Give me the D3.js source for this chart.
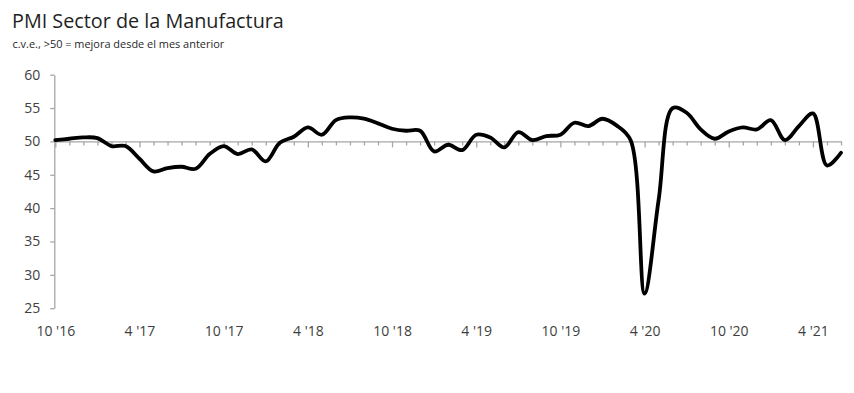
<!DOCTYPE html>
<html><head><meta charset="utf-8">
<script src="https://cdn.jsdelivr.net/npm/d3@7/dist/d3.min.js"></script>
<style>
html,body{margin:0;padding:0;background:#fff;}
svg{display:block;}
</style></head>
<body>
<svg id="chart" width="854" height="393"></svg>
<script>
const title = "PMI Sector de la Manufactura";
const subtitle = "c.v.e., >50 = mejora desde el mes anterior";
// Monthly, Oct 2016 .. Jun 2021
const months = ["10/16","11/16","12/16","1/17","2/17","3/17","4/17","5/17","6/17","7/17","8/17","9/17",
  "10/17","11/17","12/17","1/18","2/18","3/18","4/18","5/18","6/18","7/18","8/18","9/18",
  "10/18","11/18","12/18","1/19","2/19","3/19","4/19","5/19","6/19","7/19","8/19","9/19",
  "10/19","11/19","12/19","1/20","2/20","3/20","4/20","5/20","6/20","7/20","8/20","9/20",
  "10/20","11/20","12/20","1/21","2/21","3/21","4/21","5/21","6/21"];
const pmi = [50.2,50.4,50.6,50.5,49.3,49.3,47.4,45.5,46.0,46.2,45.9,48.1,
  49.3,48.1,48.8,47.0,49.8,50.7,52.1,51.0,53.2,53.6,53.4,52.7,
  51.9,51.6,51.6,48.5,49.5,48.7,51.0,50.6,49.1,51.4,50.2,50.8,
  51.0,52.8,52.3,53.4,52.4,50.2,27.2,41.2,55.0,54.3,51.8,50.4,
  51.5,52.1,51.8,53.2,50.2,52.3,54.2,46.4,48.3];
const xTickLabels = ["10 '16","4 '17","10 '17","4 '18","10 '18","4 '19","10 '19","4 '20","10 '20","4 '21"];
const xTickIndex = [0,6,12,18,24,30,36,42,48,54];
const yTicks = [25,30,35,40,45,50,55,60];

const svg = d3.select("#chart");
const axisColor = "#a6a6a6";
const textColor = "#404040";
const font = "'Open Sans', sans-serif";

const x = d3.scaleLinear().domain([0, months.length - 1]).range([55.3, 841]);
const y = d3.scaleLinear().domain([25, 60]).range([308.2, 74.7]);

// Title
const t1 = svg.append("text").attr("x", 12).attr("y", 28)
  .attr("font-family", font).attr("font-size", 20).attr("fill", "#1f1f1f").text(title);
const w1 = t1.node().getComputedTextLength();
t1.attr("font-size", 20 * 272 / w1);
const t2 = svg.append("text").attr("x", 12.5).attr("y", 48)
  .attr("font-family", font).attr("font-size", 11).attr("fill", "#1f1f1f").text(subtitle);
const w2 = t2.node().getComputedTextLength();
t2.attr("font-size", 11 * 212 / w2);

// Y axis
const yAxis = svg.append("g").attr("transform", "translate(54.3,0)")
  .call(d3.axisLeft(y).tickValues(yTicks).tickSize(4).tickSizeOuter(0).tickPadding(10));
yAxis.select(".domain").attr("stroke", axisColor).attr("stroke-width", 1.3);
yAxis.selectAll(".tick line").attr("stroke", axisColor).attr("stroke-width", 1.3);
yAxis.selectAll(".tick text").attr("font-family", font).attr("font-size", 14).attr("fill", textColor);

// Horizontal axis at 50 with monthly ticks
const hAxis = svg.append("g").attr("transform", `translate(0,${y(50)})`)
  .call(d3.axisBottom(x).tickValues(d3.range(months.length)).tickSize(4).tickSizeOuter(0).tickFormat(""));
hAxis.select(".domain").attr("stroke", axisColor).attr("stroke-width", 1.3);
hAxis.selectAll(".tick line").attr("stroke", axisColor).attr("stroke-width", 1.3)
  .attr("y2", d => xTickIndex.includes(d) ? 6 : 4);

// Bottom labels
const lab = svg.append("g").attr("transform", "translate(0,322)")
  .call(d3.axisBottom(x).tickValues(xTickIndex).tickSize(0).tickPadding(4)
    .tickFormat((d, i) => xTickLabels[i]));
lab.select(".domain").remove();
lab.selectAll(".tick text").attr("font-family", font).attr("font-size", 14).attr("fill", textColor);

// Line
const line = d3.line().x((d, i) => x(i)).y(d => y(d)).curve(d3.curveCatmullRom.alpha(0.5));
svg.append("path").datum(pmi).attr("d", line)
  .attr("fill", "none").attr("stroke", "#000").attr("stroke-width", 3.8)
  .attr("stroke-linejoin", "round").attr("stroke-linecap", "round");
</script>
</body></html>
